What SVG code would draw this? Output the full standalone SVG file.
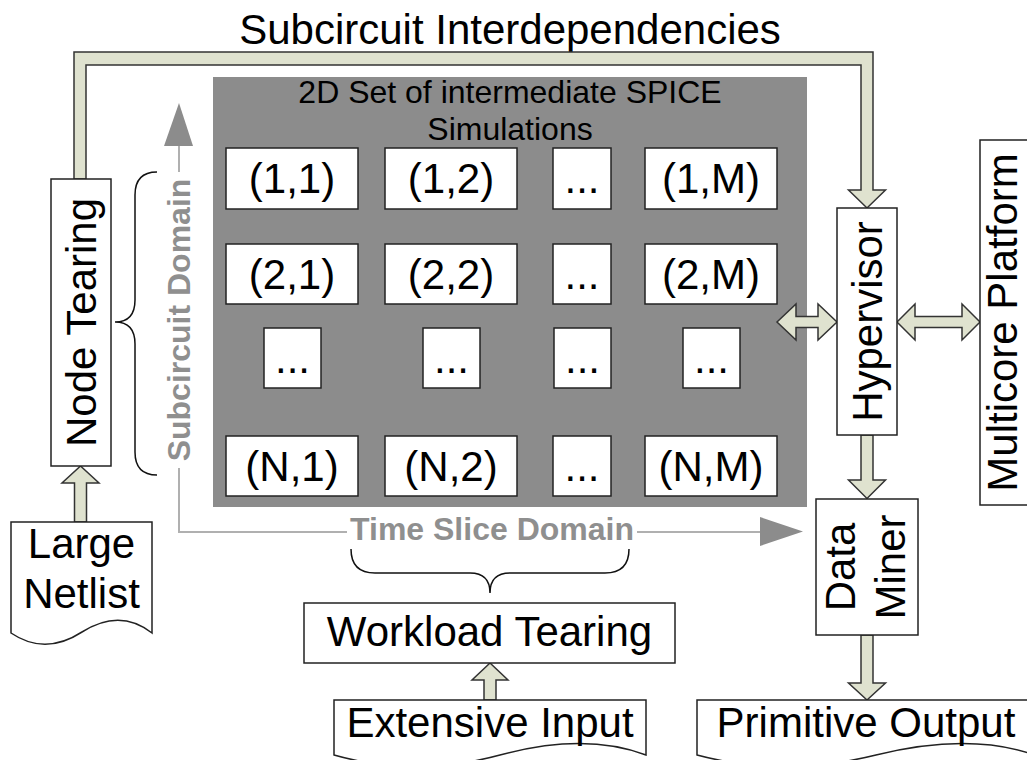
<svg xmlns="http://www.w3.org/2000/svg" width="1027" height="760" viewBox="0 0 1027 760">
  <style>
    text { font-family: "Liberation Sans", Arial, sans-serif; fill: #000; }
    .big { font-size: 42px; }
    .mid { font-size: 32px; }
    .axis-label { font-size: 32px; font-weight: bold; fill: #8f8f8f; }
    .box { fill: #fff; stroke: #222; stroke-width: 1.5; }
    .fat { fill: #dfe2cf; stroke: #333; stroke-width: 1.5; stroke-linejoin: miter; }
    .axis { stroke: #b0b0b0; stroke-width: 2; fill: none; }
    .axis-head { fill: #8c8c8c; }
    .brace { fill: none; stroke: #111; stroke-width: 1.5; }
  </style>

  <rect width="1027" height="760" fill="#fff"/>

  <!-- Title over the feedback loop -->
  <text class="big" x="510" y="44" text-anchor="middle">Subcircuit Interdependencies</text>

  <!-- Simulation grid -->
  <g id="grid">
    <rect x="213" y="77" width="594" height="430" fill="#8c8c8c"/>
    <text class="mid" x="510" y="103" text-anchor="middle">2D Set of intermediate SPICE</text>
    <text class="mid" x="510" y="140" text-anchor="middle">Simulations</text>

    <g id="cell-1-1"><rect class="box" x="226" y="148" width="132" height="61"/><text class="big" x="292" y="193" text-anchor="middle">(1,1)</text></g>
    <g id="cell-1-2"><rect class="box" x="385" y="148" width="132" height="61"/><text class="big" x="451" y="193" text-anchor="middle">(1,2)</text></g>
    <g id="cell-1-3"><rect class="box" x="553" y="148" width="58" height="61"/><text class="big" x="582" y="193" text-anchor="middle">...</text></g>
    <g id="cell-1-M"><rect class="box" x="645" y="148" width="132" height="61"/><text class="big" x="711" y="193" text-anchor="middle">(1,M)</text></g>

    <g id="cell-2-1"><rect class="box" x="226" y="244" width="132" height="60"/><text class="big" x="292" y="289" text-anchor="middle">(2,1)</text></g>
    <g id="cell-2-2"><rect class="box" x="385" y="244" width="132" height="60"/><text class="big" x="451" y="289" text-anchor="middle">(2,2)</text></g>
    <g id="cell-2-3"><rect class="box" x="553" y="244" width="58" height="60"/><text class="big" x="582" y="289" text-anchor="middle">...</text></g>
    <g id="cell-2-M"><rect class="box" x="645" y="244" width="132" height="60"/><text class="big" x="711" y="289" text-anchor="middle">(2,M)</text></g>

    <g id="cell-3-1"><rect class="box" x="264" y="328" width="57" height="60"/><text class="big" x="292.5" y="373" text-anchor="middle">...</text></g>
    <g id="cell-3-2"><rect class="box" x="423" y="328" width="57" height="60"/><text class="big" x="451.5" y="373" text-anchor="middle">...</text></g>
    <g id="cell-3-3"><rect class="box" x="554" y="328" width="57" height="60"/><text class="big" x="582.5" y="373" text-anchor="middle">...</text></g>
    <g id="cell-3-M"><rect class="box" x="683" y="328" width="57" height="60"/><text class="big" x="711.5" y="373" text-anchor="middle">...</text></g>

    <g id="cell-N-1"><rect class="box" x="226" y="436" width="132" height="60"/><text class="big" x="292" y="481" text-anchor="middle">(N,1)</text></g>
    <g id="cell-N-2"><rect class="box" x="385" y="436" width="132" height="60"/><text class="big" x="451" y="481" text-anchor="middle">(N,2)</text></g>
    <g id="cell-N-3"><rect class="box" x="553" y="436" width="58" height="60"/><text class="big" x="582" y="481" text-anchor="middle">...</text></g>
    <g id="cell-N-M"><rect class="box" x="645" y="436" width="132" height="60"/><text class="big" x="711" y="481" text-anchor="middle">(N,M)</text></g>
  </g>

  <!-- Domain axes -->
  <g id="axes">
    <line class="axis" x1="179" y1="532" x2="179" y2="468"/>
    <line class="axis" x1="179" y1="172" x2="179" y2="144"/>
    <polygon class="axis-head" points="164,146 179,103 193,146"/>
    <text class="axis-label" transform="translate(190,320) rotate(-90)" text-anchor="middle">Subcircuit Domain</text>

    <line class="axis" x1="178" y1="532" x2="347" y2="532"/>
    <line class="axis" x1="637" y1="532" x2="762" y2="532"/>
    <polygon class="axis-head" points="760,517 803,531.5 760,546"/>
    <text class="axis-label" x="492" y="540" text-anchor="middle">Time Slice Domain</text>
  </g>

  <!-- Braces -->
  <g id="braces">
    <path class="brace" d="M157,172 Q135,172 135,195 V300 Q135,322 115,322 Q135,322 135,344 V452 Q135,475 157,475"/>
    <path class="brace" d="M351,549 Q351,573 375,573 H470 Q490,573 490,593 Q490,573 510,573 H605 Q629,573 629,549"/>
  </g>

  <!-- Connectors -->
  <g id="connectors">
    <!-- feedback loop from Node Tearing to Hypervisor -->
    <polygon class="fat" points="74,179 74,52 873,52 873,190 885.5,190 867,208 848.5,190 861,190 861,65 86,65 86,179"/>
    <!-- Large Netlist to Node Tearing -->
    <polygon class="fat" points="74.5,522 74.5,483 62,483 80.5,466 99,483 86.5,483 86.5,522"/>
    <!-- Extensive Input to Workload Tearing -->
    <polygon class="fat" points="484,700 484,680 472,680 490,663 508,680 496,680 496,700"/>
    <!-- Hypervisor to Data Miner -->
    <polygon class="fat" points="861,435 861,480 848.5,480 867,498.5 885.5,480 873,480 873,435"/>
    <!-- Data Miner to Primitive Output -->
    <polygon class="fat" points="861,635 861,683 848.5,683 867,700 885.5,683 873,683 873,635"/>
    <!-- Grid to Hypervisor -->
    <polygon class="fat" points="777,322 796,304 796,316.5 818,316.5 818,304 837,322 818,340 818,327.5 796,327.5 796,340"/>
    <!-- Hypervisor to Multicore Platform -->
    <polygon class="fat" points="897,322 915,304 915,316.5 962,316.5 962,304 980,322 962,340 962,327.5 915,327.5 915,340"/>
  </g>

  <!-- Nodes -->
  <g id="node-tearing">
    <rect class="box" x="51" y="179" width="60" height="287"/>
    <text class="big" transform="translate(96,322.5) rotate(-90)" text-anchor="middle">Node Tearing</text>
  </g>

  <g id="large-netlist">
    <path class="box" d="M11,522 H152 V633 Q120,608 82,632 Q45,656 11,633 Z"/>
    <text class="big" x="81.5" y="558" text-anchor="middle">Large</text>
    <text class="big" x="81.5" y="608" text-anchor="middle">Netlist</text>
  </g>

  <g id="workload-tearing">
    <rect class="box" x="304" y="603" width="371" height="60"/>
    <text class="big" x="489.5" y="646" text-anchor="middle">Workload Tearing</text>
  </g>

  <g id="extensive-input">
    <path class="box" d="M334,700 H646 V755 Q585,732 500,755 Q415,778 334,755 Z"/>
    <text class="big" x="490" y="737" text-anchor="middle">Extensive Input</text>
  </g>

  <g id="hypervisor">
    <rect class="box" x="837" y="208" width="60" height="227"/>
    <text class="big" transform="translate(882,321.5) rotate(-90)" text-anchor="middle">Hypervisor</text>
  </g>

  <g id="multicore-platform">
    <rect class="box" x="980" y="140" width="62" height="365"/>
    <text class="big" transform="translate(1017,322.5) rotate(-90)" text-anchor="middle">Multicore Platform</text>
  </g>

  <g id="data-miner">
    <rect class="box" x="816" y="499" width="102" height="136"/>
    <text class="big" transform="translate(855,567) rotate(-90)" text-anchor="middle">Data</text>
    <text class="big" transform="translate(905,567) rotate(-90)" text-anchor="middle">Miner</text>
  </g>

  <g id="primitive-output">
    <path class="box" d="M697,700 H1035 V755 Q969,732 876,755 Q783,778 697,755 Z"/>
    <text class="big" x="866" y="737" text-anchor="middle">Primitive Output</text>
  </g>
</svg>
